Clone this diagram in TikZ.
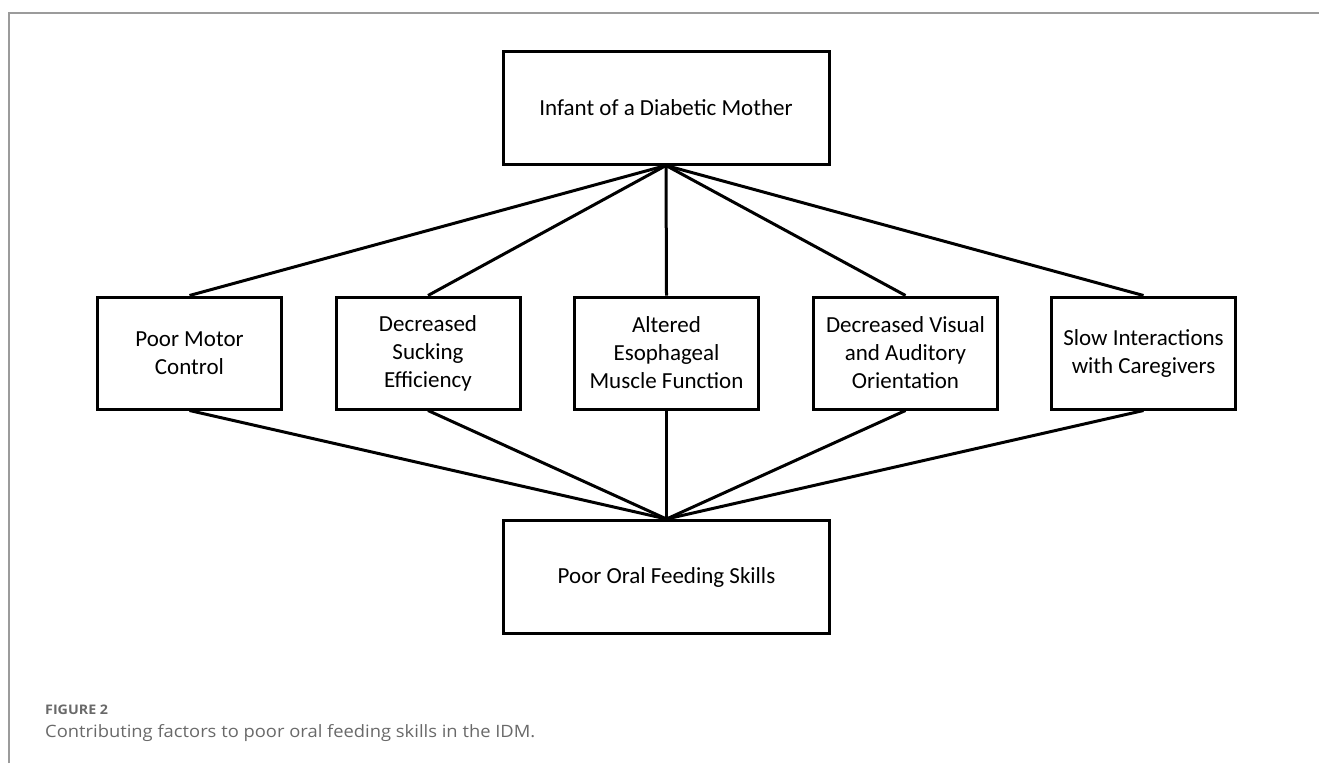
\documentclass[tikz,border=0pt]{standalone}
\usepackage{fontspec}
\setmainfont{Carlito}
\newfontfamily\capfont[FakeStretch=1.08]{Open Sans}
\definecolor{framegray}{RGB}{155,155,155}
\definecolor{capgray}{RGB}{105,105,105}
\tikzset{
  box/.style={draw=black, line width=3pt, rectangle, align=center, inner sep=0pt,
    font=\fontsize{23}{28}\selectfont, text=black},
  bigbox/.style={box, minimum width=326pt, minimum height=113pt},
  midbox/.style={box, minimum width=184pt, minimum height=112pt},
  link/.style={draw=black, line width=3pt},
  capnum/.style={anchor=base west, inner sep=0pt, text=capgray, font=\capfont\bfseries\fontsize{13.2}{16}\selectfont},
  captext/.style={anchor=base west, inner sep=0pt, text=capgray, font=\capfont\fontsize{17}{20}\selectfont}
}
\begin{document}
\begin{tikzpicture}[x=1pt,y=-1pt]
\useasboundingbox (0,0) rectangle (1319,763);
\draw[framegray, line width=1.5pt] (9,763) -- (9,13) -- (1319,13);
\node[bigbox] (top) at (666,107.5) {Infant of a Diabetic Mother};
\node[midbox] (m1) at (189.5,353) {Poor Motor\\Control};
\node[midbox] (m2) at (428,353) {Decreased\\Sucking\\Efficiency};
\node[midbox] (m3) at (666.5,353) {Altered\\Esophageal\\Muscle Function};
\node[midbox] (m4) at (905.5,353) {Decreased Visual\\and Auditory\\Orientation};
\node[midbox] (m5) at (1143.5,353) {Slow Interactions\\with Caregivers};
\node[bigbox] (bot) at (666.5,577) {Poor Oral Feeding Skills};
\foreach \m in {m1,m2,m3,m4,m5}{
  \draw[link] (top.south) -- (\m.north);
  \draw[link] (\m.south) -- (bot.north);
}
\node[capnum] (fig) at (45,714) {FIGURE 2};
\node[captext] (cap) at (45,737) {Contributing factors to poor oral feeding skills in the IDM.};
\end{tikzpicture}
\end{document}
